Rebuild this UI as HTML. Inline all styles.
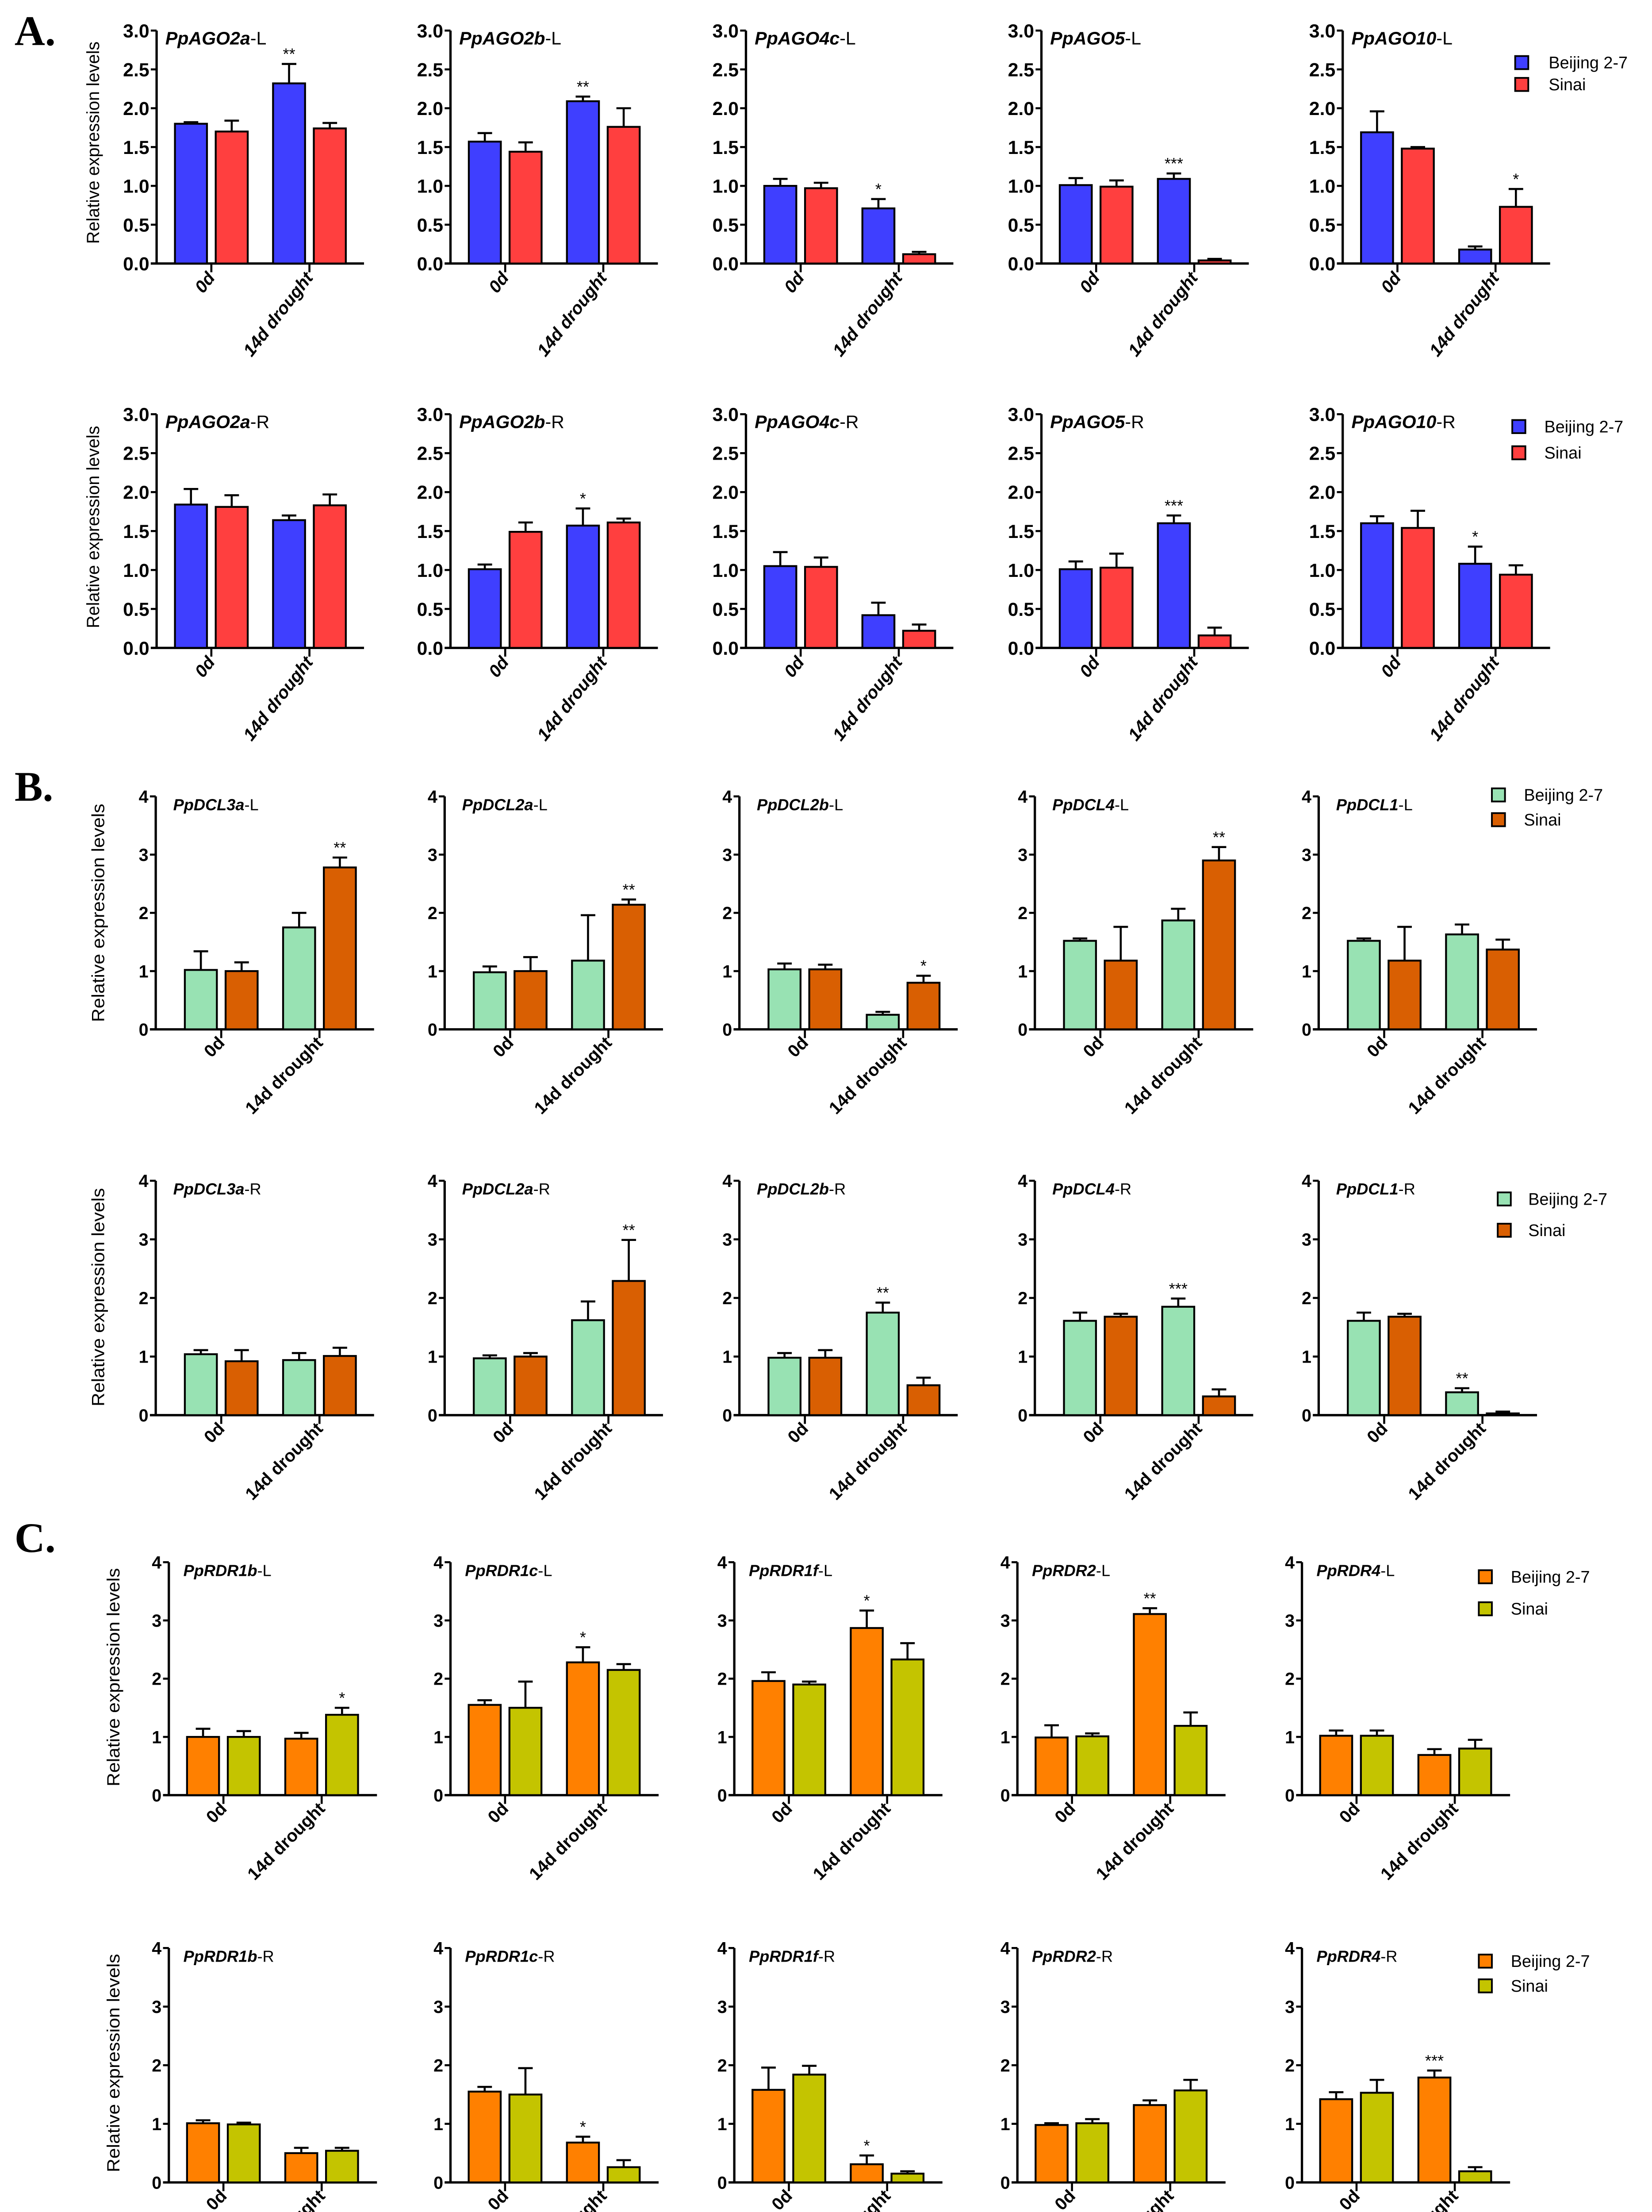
<!DOCTYPE html>
<html><head><meta charset="utf-8"><style>
html,body{margin:0;padding:0;background:#fff;width:3735px;height:5203px;overflow:hidden;position:relative;}
svg{display:block;position:absolute;left:0;top:0;overflow:hidden;}
</style></head><body>
<svg id="fig" width="3735" height="5203" viewBox="0 0 1135 1581" preserveAspectRatio="none" xmlns="http://www.w3.org/2000/svg">
<text x="10" y="31" font-family="Liberation Serif, serif" font-weight="bold" font-size="29">A.</text>
<text x="10" y="550" font-family="Liberation Serif, serif" font-weight="bold" font-size="29">B.</text>
<text x="10" y="1066" font-family="Liberation Serif, serif" font-weight="bold" font-size="29">C.</text>
</svg>
<script>
// ---- data ----
const categories = ["0d", "14d drought"];
const seriesNames = ["Beijing 2-7", "Sinai"];
// Section A (AGO)
const agoL_names = ["PpAGO2a","PpAGO2b","PpAGO4c","PpAGO5","PpAGO10"];
const agoL_mean = [[1.80,1.70,2.32,1.74],[1.57,1.44,2.09,1.76],[1.00,0.97,0.71,0.12],[1.01,0.99,1.09,0.04],[1.69,1.48,0.18,0.73]];
const agoL_err  = [[0.02,0.14,0.25,0.07],[0.11,0.12,0.06,0.24],[0.09,0.07,0.12,0.03],[0.09,0.08,0.07,0.02],[0.27,0.02,0.04,0.23]];
const agoL_sig  = [["","","**",""],["","","**",""],["","","*",""],["","","***",""],["","","","*"]];
const agoR_mean = [[1.84,1.81,1.64,1.83],[1.01,1.49,1.57,1.61],[1.05,1.04,0.42,0.22],[1.01,1.03,1.60,0.16],[1.60,1.54,1.08,0.94]];
const agoR_err  = [[0.20,0.15,0.06,0.14],[0.06,0.12,0.22,0.05],[0.18,0.12,0.16,0.08],[0.10,0.18,0.10,0.10],[0.09,0.22,0.22,0.12]];
const agoR_sig  = [["","","",""],["","","*",""],["","","",""],["","","***",""],["","","*",""]];
const agoTicks = ["0.0","0.5","1.0","1.5","2.0","2.5","3.0"];
// Section B (DCL)
const dcl_names = ["PpDCL3a","PpDCL2a","PpDCL2b","PpDCL4","PpDCL1"];
const dclL_mean = [[1.02,1.00,1.75,2.78],[0.98,1.00,1.18,2.14],[1.03,1.03,0.25,0.80],[1.52,1.18,1.87,2.90],[1.52,1.18,1.63,1.37]];
const dclL_err  = [[0.32,0.15,0.25,0.17],[0.10,0.24,0.78,0.09],[0.10,0.08,0.05,0.12],[0.04,0.58,0.20,0.23],[0.04,0.58,0.17,0.17]];
const dclL_sig  = [["","","","**"],["","","","**"],["","","","*"],["","","","**"],["","","",""]];
const dclR_mean = [[1.04,0.92,0.94,1.01],[0.97,1.00,1.62,2.29],[0.98,0.98,1.75,0.51],[1.61,1.68,1.85,0.32],[1.61,1.68,0.39,0.03]];
const dclR_err  = [[0.07,0.19,0.12,0.14],[0.05,0.06,0.32,0.70],[0.08,0.13,0.17,0.13],[0.14,0.05,0.14,0.12],[0.14,0.05,0.07,0.03]];
const dclR_sig  = [["","","",""],["","","","**"],["","","**",""],["","","***",""],["","","**",""]];
// Section C (RDR)
const rdr_names = ["PpRDR1b","PpRDR1c","PpRDR1f","PpRDR2","PpRDR4"];
const rdrL_mean = [[1.00,1.00,0.97,1.38],[1.55,1.50,2.28,2.15],[1.96,1.90,2.87,2.33],[0.99,1.01,3.11,1.19],[1.02,1.02,0.69,0.80]];
const rdrL_err  = [[0.14,0.10,0.10,0.12],[0.08,0.45,0.26,0.10],[0.15,0.05,0.30,0.28],[0.21,0.05,0.10,0.23],[0.09,0.09,0.10,0.15]];
const rdrL_sig  = [["","","","*"],["","","*",""],["","","*",""],["","","**",""],["","","",""]];
const rdrR_mean = [[1.01,0.99,0.50,0.54],[1.55,1.50,0.68,0.26],[1.58,1.84,0.31,0.15],[0.98,1.01,1.32,1.57],[1.42,1.53,1.79,0.19]];
const rdrR_err  = [[0.05,0.03,0.09,0.05],[0.08,0.45,0.10,0.12],[0.38,0.15,0.15,0.04],[0.03,0.07,0.08,0.18],[0.12,0.22,0.12,0.07]];
const rdrR_sig  = [["","","",""],["","","*",""],["","","*",""],["","","",""],["","","***",""]];
const intTicks = ["0","1","2","3","4"];

const NS = "http://www.w3.org/2000/svg";
const svg = document.getElementById("fig");
const NARROW = '"Liberation Sans Narrow","Liberation Sans",sans-serif';
const SANS = '"Liberation Sans",sans-serif';
function mk(tag, attrs, parent){
  const e = document.createElementNS(NS, tag);
  for (const k in attrs) e.setAttribute(k, attrs[k]);
  (parent||svg).appendChild(e);
  return e;
}

function panel(ax, W, top, base, ymax, ticks, title, suffix, mean, err, sig, colors, key, st){
  const g = mk("g", {});
  
  
  const y = v => base - (v / ymax) * (base - top);
  const ya = mk("line", {x1:ax, y1:top, x2:ax, y2:base, stroke:"#000", "stroke-width":1.6}, g);
  
  
  const xa = mk("line", {x1:ax-4, y1:base, x2:ax+W, y2:base, stroke:"#000", "stroke-width":1.6}, g);
  
  
  const step = ymax / (ticks.length - 1);
  ticks.forEach((t, i) => {
    const yy = y(i * step);
    mk("line", {x1:ax-4, y1:yy, x2:ax, y2:yy, stroke:"#000", "stroke-width":1.4}, g);
    const tl = mk("text", {x:ax-5, y:yy+st.tickSize*0.36, "text-anchor":"end", "font-family":st.tickFont, "font-weight":"bold", "font-size":st.tickSize}, g);
    
    
    tl.textContent = t;
  });
  const tt = mk("text", {x:ax+st.titleDx, y:top+9.5, "font-family":st.titleFont, "font-size":st.titleSize}, g);
  
  
  const ti = mk("tspan", {"font-style":"italic", "font-weight":"bold"}, tt); ti.textContent = title;
  const ts = mk("tspan", {}, tt); ts.textContent = "-" + suffix;
  const tickOff = [st.t1, st.t2];
  const bw = 22, gap = 3;
  categories.forEach((c, ci) => {
    const cx = ax + tickOff[ci];
    mk("line", {x1:cx, y1:base, x2:cx, y2:base+6, stroke:"#000", "stroke-width":1.4}, g);
    const lx = cx + 3, ly = base + 10;
    const cl = mk("text", {x:lx, y:ly, "text-anchor":"end", "font-family":st.catFont, "font-weight":"bold", "font-style":st.catItalic ? "italic" : "normal", "font-size":st.catSize, transform:`rotate(${st.catAngle} ${lx} ${ly})`}, g);
    
    
    cl.textContent = c;
    for (let s = 0; s < 2; s++) {
      const idx = ci * 2 + s;
      const bx = s === 0 ? cx - gap - bw : cx + gap;
      const v = mean[idx], e = err[idx];
      const r = mk("rect", {x:bx, y:y(v), width:bw, height:base - y(v), fill:colors[s], stroke:"#000", "stroke-width":1.3}, g);
      
      
      const mx = bx + bw / 2;
      const eb = mk("path", {d:`M${mx},${y(v)} V${y(v+e)} M${mx-5},${y(v+e)} H${mx+5}`, stroke:"#000", "stroke-width":1.4, fill:"none"}, g);
      
      
      if (sig[idx]) {
        const sm = mk("text", {x:mx, y:y(v+e)-3, "text-anchor":"middle", "font-family":SANS, "font-size":11}, g);
        
        
        sm.textContent = sig[idx];
      }
    }
  });
}

function legend(x, y1, y2, tx, colors, key){
  const g = mk("g", {});
  
  
  [y1, y2].forEach((yy, i) => {
    const r = mk("rect", {x:x, y:yy-4.5, width:9, height:9, fill:colors[i], stroke:"#000", "stroke-width":1.2}, g);
    
    
    const t = mk("text", {x:tx, y:yy+4, "font-family":SANS, "font-size":11.5}, g);
    
    
    t.textContent = seriesNames[i];
  });
}

function ytitle(x, cy, len){
  const t = mk("text", {x:x, y:cy, "text-anchor":"middle", "font-family":SANS, "font-size":12, textLength:len, lengthAdjust:"spacingAndGlyphs", transform:`rotate(-90 ${x} ${cy})`});
  
  
  t.textContent = "Relative expression levels";
}

const cA = ["#3f3fff", "#ff3f3f"];
const cB = ["#98e2b3", "#d95f02"];
const cC = ["#ff8000", "#c4c400"];
const axA = [107.6, 309.5, 512.5, 715.5, 922.5];
const axB = [107, 305.5, 508, 711, 906];
const axC = [116, 309.5, 504.5, 699, 894.5];
const stA = {tickFont:NARROW, tickSize:13, catFont:NARROW, catItalic:true, catSize:12, catAngle:-52, titleFont:NARROW, titleSize:12.5, titleDx:6, t1:37.6, t2:105};
const stB = {tickFont:SANS, tickSize:12, catFont:SANS, catItalic:false, catSize:12, catAngle:-45, titleFont:SANS, titleSize:11, titleDx:12, t1:45, t2:112.5};
const stC = {tickFont:SANS, tickSize:12, catFont:SANS, catItalic:false, catSize:12, catAngle:-45, titleFont:SANS, titleSize:11, titleDx:10, t1:37.5, t2:105};

for (let i = 0; i < 5; i++) {
  panel(axA[i], 142.5, 21, 181, 3, agoTicks, agoL_names[i], "L", agoL_mean[i], agoL_err[i], agoL_sig[i], cA, "ago-l-" + i, stA);
  panel(axA[i], 142.5, 284.5, 445, 3, agoTicks, agoL_names[i], "R", agoR_mean[i], agoR_err[i], agoR_sig[i], cA, "ago-r-" + i, stA);
  panel(axB[i], 150, 547, 707, 4, intTicks, dcl_names[i], "L", dclL_mean[i], dclL_err[i], dclL_sig[i], cB, "dcl-l-" + i, stB);
  panel(axB[i], 150, 811, 972, 4, intTicks, dcl_names[i], "R", dclR_mean[i], dclR_err[i], dclR_sig[i], cB, "dcl-r-" + i, stB);
  panel(axC[i], 143, 1073, 1233, 4, intTicks, rdr_names[i], "L", rdrL_mean[i], rdrL_err[i], rdrL_sig[i], cC, "rdr-l-" + i, stC);
  panel(axC[i], 143, 1338, 1499, 4, intTicks, rdr_names[i], "R", rdrR_mean[i], rdrR_err[i], rdrR_sig[i], cC, "rdr-r-" + i, stC);
}
legend(1041, 43, 58, 1064, cA, "a-top");
legend(1039, 293, 311, 1061, cA, "a-bottom");
legend(1025, 546, 563, 1047, cB, "b-top");
legend(1029, 823.5, 845, 1050, cB, "b-bottom");
legend(1016, 1083, 1105, 1038, cC, "c-top");
legend(1016, 1347, 1364, 1038, cC, "c-bottom");
ytitle(68, 98, 139); ytitle(68, 362, 139);
ytitle(71.5, 627, 150); ytitle(71.5, 891, 150);
ytitle(82, 1152, 150); ytitle(82, 1417, 150);
</script>
</body></html>
